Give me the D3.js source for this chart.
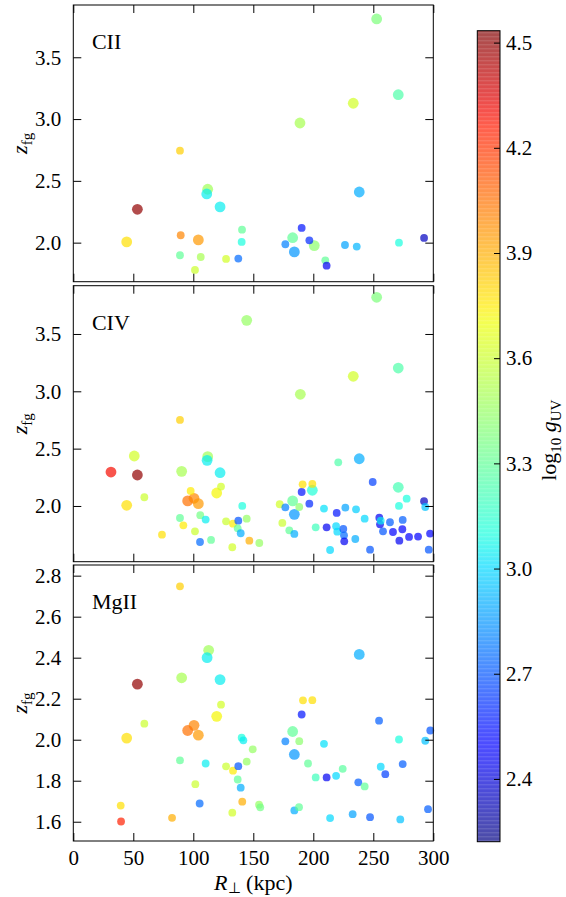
<!DOCTYPE html>
<html><head><meta charset="utf-8">
<script src="https://cdn.jsdelivr.net/npm/d3@7"></script>
<style>body{margin:0;background:#fff}svg{display:block}text{font-family:"Liberation Serif","Times New Roman",serif;fill:#000}</style>
</head><body><svg id="c" width="566" height="897"></svg>
<script>
// ---- data ----
const xTicks = [0, 50, 100, 150, 200, 250, 300];
const yTicksUpper = [2.0, 2.5, 3.0, 3.5];
const yTicksMg = [1.6, 1.8, 2.0, 2.2, 2.4, 2.6, 2.8];
const cbTicks = [2.4, 2.7, 3.0, 3.3, 3.6, 3.9, 4.2, 4.5];
const panelNames = ["CII", "CIV", "MgII"];

// CII
const ciiR = [252.8,270.8,233.3,188.9,88.9,112.0,111.2,122.3,238.3,53.4,44.5,89.5,104.2,140.6,140.3,88.9,106.2,127.3,137.5,101.4,182.8,176.7,184.2,190.3,196.7,200.8,210.0,211.1,226.4,236.2,271.4,292.3];
const ciiZ = [3.81,3.197,3.128,2.968,2.744,2.432,2.394,2.289,2.41,2.27,2.006,2.06,2.022,2.105,2.006,1.898,1.884,1.868,1.871,1.779,2.04,1.987,1.925,2.119,2.019,1.976,1.857,1.814,1.981,1.968,2.0,2.038];
const ciiG = [3.38,3.25,3.62,3.5,3.82,3.48,3.05,3.05,2.9,4.5,3.78,4.0,3.95,3.3,3.1,3.3,3.5,3.62,2.75,3.6,3.3,2.8,2.85,2.55,2.6,3.42,3.3,2.45,2.88,2.92,3.1,2.35];
const ciiBig = [1,1,1,1,0,1,1,1,1,1,1,0,1,0,0,0,0,0,0,0,1,0,1,0,0,1,0,0,0,0,0,0];

// CIV
const civR = [252.8,144.5,270.8,233.3,189.2,88.9,50.8,112.0,111.5,122.3,238.3,220.8,31.4,53.4,90.3,44.5,59.2,97.8,95.3,100.6,104.2,119.5,123.1,140.8,88.9,91.7,105.8,110.3,101.4,73.9,105.6,114.8,127.3,133.1,137.5,137.0,139.5,144.5,146.7,132.5,155.0,172.0,182.8,176.7,188.3,184.2,174.2,180.0,184.2,190.3,191.1,199.2,199.2,196.7,208.9,202.0,211.1,219.5,226.7,219.0,220.0,225.0,225.6,225.8,214.0,235.6,242.8,235.0,249.5,255.0,255.6,256.2,258.1,247.3,263.9,266.4,270.8,271.4,277.8,274.5,274.2,271.7,279.8,287.3,292.3,293.3,297.3,296.2];
const civZ = [3.82,3.619,3.203,3.131,2.974,2.75,2.436,2.43,2.398,2.29,2.412,2.381,2.296,2.27,2.302,2.006,2.076,2.131,2.044,2.067,2.02,2.113,2.169,2.0,1.895,1.831,1.92,1.881,1.779,1.75,1.686,1.704,1.866,1.846,1.872,1.805,1.762,1.889,1.697,1.64,1.677,2.015,2.044,1.988,1.991,1.927,1.852,1.788,1.756,2.122,2.189,2.192,2.137,2.02,1.977,1.814,1.814,1.939,1.985,1.823,1.776,1.799,1.744,1.692,1.616,1.971,1.889,1.712,2.209,1.898,1.84,1.872,1.779,1.619,1.858,1.773,2.163,2.0,2.064,1.878,1.797,1.697,1.73,1.733,2.041,1.991,1.759,1.619];
const civG = [3.38,3.45,3.25,3.62,3.5,3.82,3.62,3.48,3.05,3.05,2.9,3.25,4.3,4.5,3.5,3.78,3.6,3.75,4.05,4.0,3.95,3.72,3.62,3.1,3.3,3.75,3.35,3.05,3.6,3.78,2.75,3.3,3.6,3.75,2.7,3.3,2.9,3.45,3.9,3.62,3.45,3.62,3.3,2.8,3.42,2.85,3.6,3.3,2.9,2.55,3.78,3.78,3.12,2.6,3.02,3.2,2.45,2.55,2.88,3.0,3.0,2.7,2.75,2.45,3.0,2.98,3.0,2.9,2.65,2.45,2.45,3.05,2.7,2.7,2.72,2.5,3.22,3.1,3.1,2.72,2.5,2.45,2.5,2.5,2.35,2.95,2.5,2.7];
const civBig = [1,1,1,1,1,0,1,1,1,1,1,0,1,1,1,1,0,0,1,1,1,1,0,0,0,0,0,0,0,0,0,0,0,0,0,0,0,0,0,0,0,0,1,0,0,1,0,0,0,0,0,0,1,0,0,0,0,0,0,0,0,0,0,0,0,0,0,0,0,0,0,0,0,0,0,0,1,0,0,0,0,0,0,0,0,0,0,0];

// MgII
const mgR = [88.9,112.8,111.5,122.3,238.3,53.4,90.3,191.4,199.2,123.1,119.5,190.3,59.2,100.6,95.3,104.2,44.5,254.8,140.3,141.7,182.8,176.7,188.3,208.9,184.2,271.4,293.3,297.5,149.5,88.9,110.3,127.3,133.1,137.5,144.5,137.0,139.5,101.7,195.6,202.0,211.1,219.0,224.5,256.2,260.0,274.5,237.5,242.8,39.5,39.8,82.3,105.3,140.8,132.5,154.8,155.8,184.2,188.1,214.0,232.8,247.3,272.5,295.6];
const mgZ = [2.748,2.436,2.4,2.293,2.416,2.271,2.302,2.192,2.193,2.171,2.114,2.123,2.078,2.07,2.045,2.022,2.008,2.093,2.01,1.997,2.04,1.992,1.993,1.98,1.928,2.001,1.995,2.045,1.953,1.899,1.884,1.87,1.849,1.871,1.893,1.806,1.766,1.783,1.884,1.816,1.816,1.824,1.858,1.868,1.832,1.881,1.792,1.772,1.679,1.601,1.619,1.689,1.698,1.644,1.683,1.67,1.655,1.671,1.618,1.637,1.622,1.611,1.661];
const mgG = [3.82,3.48,3.05,3.05,2.9,4.5,3.5,3.78,3.78,3.62,3.72,2.55,3.6,4.0,4.05,3.95,3.78,2.72,3.1,3.05,3.3,2.8,3.42,3.02,2.85,3.1,2.95,2.7,3.45,3.3,3.05,3.6,3.75,2.7,3.45,3.3,2.9,3.6,3.3,3.2,2.45,3.0,3.28,3.0,2.65,2.72,2.72,3.3,3.78,4.25,3.9,2.75,3.9,3.62,3.45,3.35,2.9,3.3,3.0,2.88,2.7,2.95,2.72];
const mgBig = [0,1,1,1,1,1,1,0,0,0,1,0,0,1,1,1,1,0,0,0,1,0,0,0,1,0,0,0,0,0,0,0,0,0,0,0,0,0,0,0,0,0,0,0,0,0,0,0,0,0,0,0,0,0,0,0,0,0,0,0,0,0,0];

// ---- drawing ----
const svg = d3.select("#c");
const x = d3.scaleLinear().domain([0, 300]).range([73.3, 433.3]);
const panels = [
  {name: panelNames[0], R: ciiR, Z: ciiZ, G: ciiG, B: ciiBig, top: 5, bot: 281.7, dom: [1.684, 3.923], ticks: yTicksUpper},
  {name: panelNames[1], R: civR, Z: civZ, G: civG, B: civBig, top: 285.7, bot: 561.7, dom: [1.514, 3.921], ticks: yTicksUpper},
  {name: panelNames[2], R: mgR, Z: mgZ, G: mgG, B: mgBig, top: 565, bot: 841, dom: [1.506, 2.852], ticks: yTicksMg}
];

// jet colormap
const jr = d3.scaleLinear().domain([0, 0.35, 0.66, 0.89, 1]).range([0, 0, 1, 1, 0.5]).clamp(true);
const jg = d3.scaleLinear().domain([0, 0.125, 0.375, 0.64, 0.91, 1]).range([0, 0, 1, 1, 0, 0]).clamp(true);
const jb = d3.scaleLinear().domain([0, 0.11, 0.34, 0.65, 1]).range([0.5, 1, 1, 0, 0]).clamp(true);
const cNorm = d3.scaleLinear().domain([2.221, 4.534]).range([0, 1]).clamp(true);
const jet = v => { const t = cNorm(v); return d3.rgb(jr(t) * 255, jg(t) * 255, jb(t) * 255).toString(); };
const rScale = d3.scaleOrdinal().domain([0, 1]).range([3.9, 5.4]);

panels.forEach((p, i) => {
  const y = d3.scaleLinear().domain(p.dom).range([p.bot, p.top]);
  const g = svg.append("g");
  const idx = d3.range(p.R.length).sort((a, b) => p.B[b] - p.B[a]);
  g.selectAll("circle").data(idx).join("circle")
    .attr("cx", k => x(p.R[k])).attr("cy", k => y(p.Z[k]))
    .attr("r", k => rScale(p.B[k]))
    .attr("fill", k => jet(p.G[k])).attr("fill-opacity", 0.7);
  g.append("rect").attr("x", x(0)).attr("y", p.top).attr("width", x(300) - x(0)).attr("height", p.bot - p.top)
    .attr("fill", "none").attr("stroke", "#000").attr("stroke-width", 1);
  const left = d3.axisLeft(y).tickValues(p.ticks).tickFormat(d3.format(".1f")).tickSizeInner(-8).tickSizeOuter(0).tickPadding(12);
  const right = d3.axisRight(y).tickValues(p.ticks).tickFormat("").tickSizeInner(-8).tickSizeOuter(0);
  const top = d3.axisTop(x).tickValues(xTicks).tickFormat("").tickSizeInner(-8).tickSizeOuter(0);
  const bottom = d3.axisBottom(x).tickValues(xTicks).tickFormat(i === 2 ? d3.format("d") : "").tickSizeInner(-8).tickSizeOuter(0).tickPadding(9);
  g.append("g").attr("transform", `translate(${x(0)},0)`).call(left);
  g.append("g").attr("transform", `translate(${x(300)},0)`).call(right);
  g.append("g").attr("transform", `translate(0,${p.top})`).call(top);
  g.append("g").attr("transform", `translate(0,${p.bot})`).call(bottom);
  g.selectAll(".domain").remove();
  g.selectAll(".tick line").attr("stroke", "#000");
  g.selectAll(".tick text").style("font-family", '"Liberation Serif",serif').style("font-size", "21px").attr("fill", "#000");
  g.append("text").attr("x", x(15.5)).attr("y", p.top + 44).style("font-size", "22px").text(p.name);
  const yl = g.append("text").attr("transform", `translate(27,${(p.top + p.bot) / 2}) rotate(-90)`)
    .attr("text-anchor", "middle").style("font-size", "22px");
  yl.append("tspan").style("font-style", "italic").text("z");
  yl.append("tspan").attr("dy", 5).style("font-size", "15px").text("fg");
});

// x label
const xl = svg.append("text").attr("x", (x(0) + x(300)) / 2).attr("y", 890).attr("text-anchor", "middle").style("font-size", "22px");
xl.append("tspan").style("font-style", "italic").text("R");
xl.append("tspan").attr("dy", 3).style("font-size", "15px").text("⊥");
xl.append("tspan").attr("dy", -3).text(" (kpc)");

// colorbar
const cbTop = 30.7, cbBot = 841.7, cbL = 477.3, cbW = 22.7;
const cy = d3.scaleLinear().domain([2.221, 4.534]).range([cbBot, cbTop]);
const defs = svg.append("defs");
const grad = defs.append("linearGradient").attr("id", "jetg").attr("x1", 0).attr("y1", 1).attr("x2", 0).attr("y2", 0);
d3.range(0, 1.0001, 0.02).forEach(t => {
  grad.append("stop").attr("offset", t).attr("stop-color", jet(cNorm.invert(t)));
});
svg.append("rect").attr("x", cbL).attr("y", cbTop).attr("width", cbW).attr("height", cbBot - cbTop)
  .attr("fill", "url(#jetg)").attr("fill-opacity", 0.7);
svg.append("g").selectAll("line").data(d3.range(cbTop + 2, cbBot, 4)).join("line")
  .attr("x1", cbL).attr("x2", cbL + cbW).attr("y1", d => d).attr("y2", d => d)
  .attr("stroke", "#fff").attr("stroke-opacity", 0.12).attr("stroke-width", 1.5);
svg.append("rect").attr("x", cbL).attr("y", cbTop).attr("width", cbW).attr("height", cbBot - cbTop)
  .attr("fill", "none").attr("stroke", "#000").attr("stroke-width", 1);
const cba = svg.append("g").attr("transform", `translate(${cbL + cbW},0)`)
  .call(d3.axisRight(cy).tickValues(cbTicks).tickFormat(d3.format(".1f")).tickSizeInner(-6).tickSizeOuter(0).tickPadding(6));
cba.select(".domain").remove();
cba.selectAll(".tick line").attr("stroke", "#000");
cba.selectAll(".tick text").style("font-family", '"Liberation Serif",serif').style("font-size", "21px").attr("fill", "#000");

const cl = svg.append("text").attr("transform", `translate(556,${(cbTop + cbBot) / 2 + 4}) rotate(-90)`)
  .attr("text-anchor", "middle").style("font-size", "22px");
cl.append("tspan").text("log");
cl.append("tspan").attr("dy", 5).style("font-size", "15px").text("10");
cl.append("tspan").attr("dy", -5).text(" ");
cl.append("tspan").style("font-style", "italic").text("g");
cl.append("tspan").attr("dy", 5).style("font-size", "15px").text("UV");
</script></body></html>
